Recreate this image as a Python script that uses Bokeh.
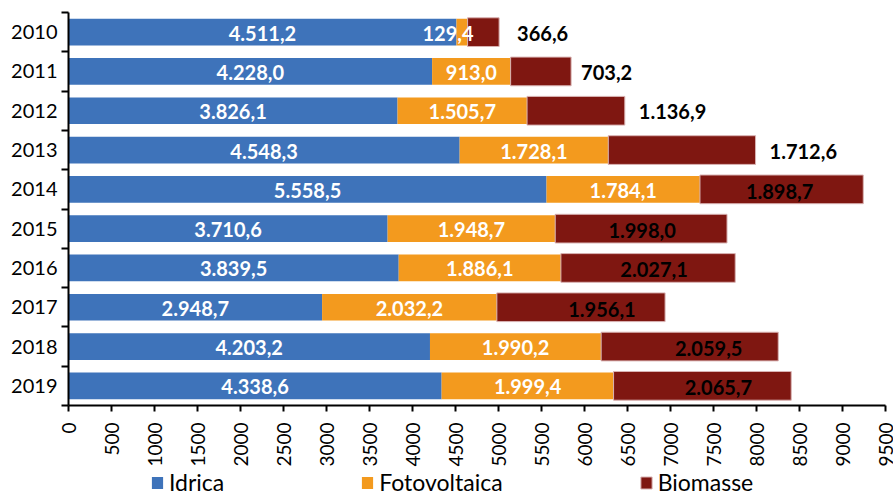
import numpy as np
from bokeh.plotting import figure
from bokeh.models import ColumnDataSource, Range1d, FixedTicker, Legend, LegendItem
from bokeh.core.properties import value
from bokeh.embed import file_html
from bokeh.resources import INLINE

# ---- data ----
years = ["2010", "2011", "2012", "2013", "2014", "2015", "2016", "2017", "2018", "2019"]
idrica = [4511.2, 4228.0, 3826.1, 4548.3, 5558.5, 3710.6, 3839.5, 2948.7, 4203.2, 4338.6]
fotovoltaica = [129.4, 913.0, 1505.7, 1728.1, 1784.1, 1948.7, 1886.1, 2032.2, 1990.2, 1999.4]
biomasse = [366.6, 703.2, 1136.9, 1712.6, 1898.7, 1998.0, 2027.1, 1956.1, 2059.5, 2065.7]
x_ticks = list(range(0, 9501, 500))
x_max = 9500
series_names = ["Idrica", "Fotovoltaica", "Biomasse"]

# ---- layout / style ----
W, H = 893, 496
PLOT_L, PLOT_R, PLOT_T, ROW_PX = 68, 885, 12, 39.3
FONT = "Lato"
C_IDR = "#3E73BA"
C_FOT = "#F39A1E"
C_BIO = "#7F1711"
bio_outside = [True, True, True, True, False, False, False, False, False, False]
bio_nudge = [18, 10, 14, 14, -2, 1, 6, 21, 19, 16]   # px label nudges
fot_nudge = [-14, 0, 0, 0, 0, 0, 0, 0, 0, 0]


def it(v):
    s = f"{v:,.1f}"
    return s.replace(",", "X").replace(".", ",").replace("X", ".")


n = len(years)
ypos = list(range(n))
idr = np.array(idrica)
fot = np.array(fotovoltaica)
bio = np.array(biomasse)

src = ColumnDataSource(dict(
    y=ypos,
    idr_l=np.zeros(n), idr_r=idr,
    fot_l=idr, fot_r=idr + fot,
    bio_l=idr + fot, bio_r=idr + fot + bio,
))

px_per_x = (PLOT_R - PLOT_L) / x_max
x_range = Range1d(-PLOT_L / px_per_x, x_max + (W - PLOT_R) / px_per_x)
y_range = Range1d(-0.5 + (H - PLOT_T) / ROW_PX, -0.5 - PLOT_T / ROW_PX)

p = figure(frame_width=W, frame_height=H, x_range=x_range, y_range=y_range,
           output_backend="svg", toolbar_location=None,
           min_border_left=0, min_border_right=0, min_border_top=0, min_border_bottom=0)
p.outline_line_color = None
p.grid.visible = False
p.background_fill_color = "white"

r1 = p.hbar(y="y", left="idr_l", right="idr_r", height=0.68, source=src,
            fill_color=C_IDR, line_color=None)
r2 = p.hbar(y="y", left="fot_l", right="fot_r", height=0.68, source=src,
            fill_color=C_FOT, line_color=None)
r3 = p.hbar(y="y", left="bio_l", right="bio_r", height=0.73, source=src,
            fill_color=C_BIO, line_color="#D9B3B3", line_width=1)

# labels
lab_idr = ColumnDataSource(dict(x=idr / 2, y=ypos, t=[it(v) for v in idrica]))
lab_fot = ColumnDataSource(dict(x=idr + fot / 2, y=ypos, t=[it(v) for v in fotovoltaica], dx=fot_nudge))
ins = [i for i in range(n) if not bio_outside[i]]
out = [i for i in range(n) if bio_outside[i]]
lab_bio_in = ColumnDataSource(dict(x=[idr[i] + fot[i] + bio[i] / 2 for i in ins], y=[ypos[i] for i in ins],
                                   t=[it(biomasse[i]) for i in ins], dx=[bio_nudge[i] for i in ins]))
lab_bio_out = ColumnDataSource(dict(x=[idr[i] + fot[i] + bio[i] for i in out], y=[ypos[i] for i in out],
                                    t=[it(biomasse[i]) for i in out], dx=[bio_nudge[i] for i in out]))

common = dict(text_font=value(FONT), text_font_style="bold", text_font_size="20px", text_baseline="middle")
p.text(x="x", y="y", text="t", source=lab_idr, text_color="white", text_align="center", y_offset=1, **common)
p.text(x="x", y="y", text="t", source=lab_fot, text_color="white", text_align="center", x_offset="dx", y_offset=1, **common)
p.text(x="x", y="y", text="t", source=lab_bio_in, text_color="black", text_align="center", x_offset="dx", y_offset=2, **common)
p.text(x="x", y="y", text="t", source=lab_bio_out, text_color="black", text_align="left", x_offset="dx", y_offset=1, **common)

# y axis (fixed at x = 0)
ya = p.yaxis[0]
ya.fixed_location = 0
ya.bounds = (-0.5, n - 0.5)
ya.ticker = FixedTicker(ticks=ypos, minor_ticks=[i - 0.5 for i in range(n + 1)])
ya.major_label_overrides = {i: y for i, y in enumerate(years)}
ya.major_tick_out = 0
ya.major_tick_in = 0
ya.minor_tick_out = 7
ya.minor_tick_in = 0
ya.minor_tick_line_width = 2
ya.minor_tick_line_color = "black"
ya.axis_line_width = 2
ya.axis_line_color = "black"
ya.major_label_standoff = 4
ya.major_label_text_font = FONT
ya.major_label_text_font_size = "20px"
ya.major_label_text_color = "black"

# x axis (fixed below the last row)
xa = p.xaxis[0]
xa.fixed_location = n - 0.5
xa.bounds = (0, x_max)
xa.ticker = FixedTicker(ticks=x_ticks, minor_ticks=[])
xa.major_label_orientation = np.pi / 2
xa.major_tick_out = 6
xa.major_tick_in = 0
xa.major_tick_line_width = 2
xa.major_tick_line_color = "black"
xa.axis_line_width = 2
xa.axis_line_color = "black"
xa.major_label_standoff = 11
xa.major_label_text_font = FONT
xa.major_label_text_font_size = "19px"
xa.major_label_text_color = "black"

legend = Legend(items=[LegendItem(label=series_names[0], renderers=[r1]),
                       LegendItem(label=series_names[1], renderers=[r2]),
                       LegendItem(label=series_names[2], renderers=[r3])],
                orientation="horizontal", location=(150, 0), spacing=136,
                glyph_width=14, glyph_height=15, label_standoff=5, label_height=18,
                padding=0, margin=0, border_line_color=None, background_fill_alpha=0,
                label_text_font=FONT, label_text_font_size="23px", label_text_color="black")
p.add_layout(legend, "center")

open("out.html", "w").write(file_html(p, INLINE))
